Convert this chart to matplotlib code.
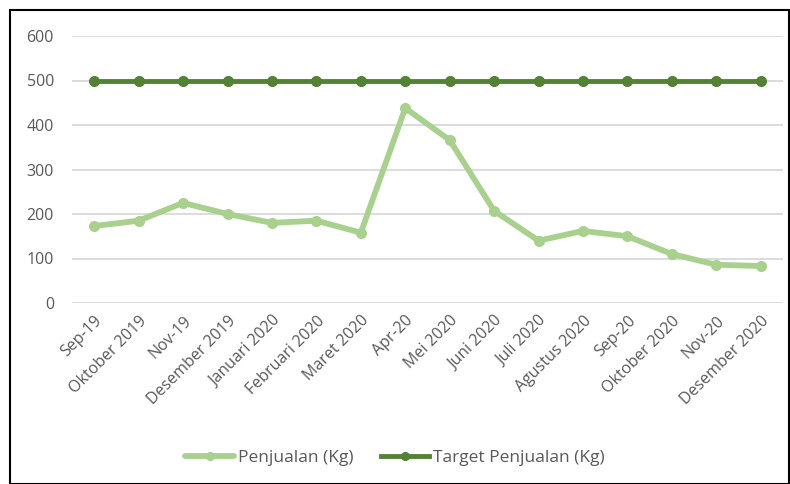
import matplotlib.pyplot as plt
from matplotlib.patches import Rectangle

# data
bulan = ["Sep-19", "Oktober 2019", "Nov-19", "Desember 2019", "Januari 2020",
         "Februari 2020", "Maret 2020", "Apr-20", "Mei 2020", "Juni 2020",
         "Juli 2020", "Agustus 2020", "Sep-20", "Oktober 2020", "Nov-20",
         "Desember 2020"]
penjualan = [173, 185, 225, 200, 180, 185, 158, 438, 366, 207, 140, 162, 150, 110, 86, 83]
target = [500] * len(bulan)

plt.rcParams["font.family"] = ["Open Sans", "DejaVu Sans"]
fig = plt.figure(figsize=(7.9, 4.84), dpi=100)
ax = fig.add_axes([72 / 790, 1 - 303 / 484, 711 / 790, 267 / 484])

x = list(range(len(bulan)))
ax.plot(x, penjualan, color="#A9D18E", linewidth=4.2, marker="o", markersize=7,
        label="Penjualan (Kg)", solid_capstyle="round")
ax.plot(x, target, color="#548235", linewidth=3.5, marker="o", markersize=7,
        label="Target Penjualan (Kg)")

ax.set_xlim(-0.5, len(bulan) - 0.5)
ax.set_ylim(0, 600)
ax.set_yticks(range(0, 601, 100))
ax.set_xticks(x)
ax.set_xticklabels(bulan, rotation=45, ha="right", rotation_mode="anchor")
ax.tick_params(axis="both", length=0, labelsize=11.5, colors="#595959")
ax.tick_params(axis="y", pad=13)
ax.tick_params(axis="x", pad=7)
ax.grid(axis="y", color="#D9D9D9", linewidth=1.3)
ax.set_axisbelow(True)
for s in ax.spines.values():
    s.set_visible(False)

fig.legend(loc="center", bbox_to_anchor=(0.5, 1 - 458 / 484), ncol=2, frameon=False,
           fontsize=12.5, labelcolor="#595959", handlelength=2.8, columnspacing=1.6,
           handletextpad=0.2, markerscale=0.8)

# outer frame
fig.patches.append(Rectangle((10 / 790, 0), 1 - 10 / 790 - 0.001, 1 - 10 / 484,
                             transform=fig.transFigure, fill=False,
                             edgecolor="black", linewidth=1.5))

fig.savefig("out.png", dpi=100)
